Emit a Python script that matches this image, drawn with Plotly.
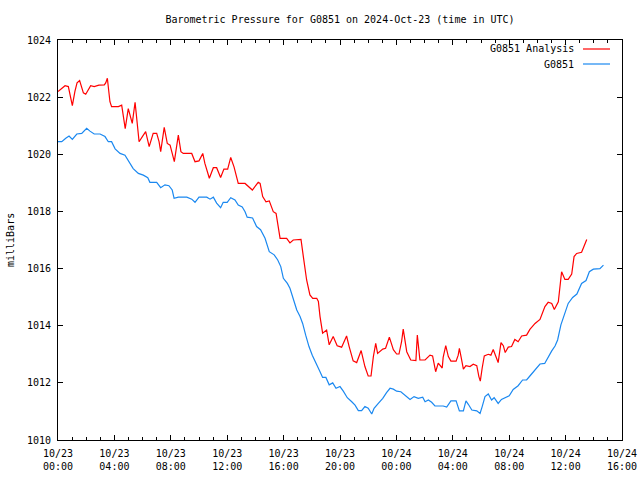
import pandas as pd
import plotly.graph_objects as go

# minutes after 2024-10-23 00:00 UTC
analysis_min = [0, 30, 44, 61, 72, 81, 92, 108, 118, 139, 154, 174, 197, 203, 210, 221, 228, 257, 271, 278,
                286, 299, 311, 316, 328, 335, 345, 359, 373, 388, 405, 420, 430, 437, 444, 452, 465, 477, 495, 502,
                512, 523, 533, 569, 583, 600, 616, 625, 644, 661, 675, 692, 706, 722, 735, 749, 767, 796, 827, 852,
                860, 871, 885, 899, 916, 928, 945, 973, 987, 1001, 1034, 1044, 1058, 1072, 1084, 1101, 1108, 1115, 1126, 1143,
                1154, 1171, 1188, 1207, 1228, 1239, 1256, 1271, 1290, 1306, 1320, 1332, 1342, 1352, 1360, 1382, 1394, 1410, 1427, 1441,
                1451, 1462, 1469, 1484, 1501, 1523, 1529, 1540, 1562, 1583, 1594, 1607, 1618, 1635, 1639, 1650, 1661, 1672, 1694, 1703,
                1708, 1715, 1725, 1736, 1753, 1767, 1782, 1791, 1797, 1805, 1814, 1831, 1842, 1852, 1862, 1873, 1885, 1895, 1903, 1916,
                1930, 1944, 1958, 1973, 1994, 2008, 2030, 2051, 2072, 2086, 2101, 2112, 2129, 2136, 2143, 2157, 2171, 2186, 2196, 2207,
                2228, 2238, 2250]
analysis_mb = [1022.2, 1022.4, 1022.37, 1021.7, 1022.2, 1022.5, 1022.58, 1022.15, 1022.1, 1022.4, 1022.37, 1022.42, 1022.43, 1022.5, 1022.66, 1021.84, 1021.67, 1021.67, 1021.72, 1021.3,
               1020.9, 1021.6, 1021.2, 1021.08, 1021.82, 1021.25, 1020.44, 1020.62, 1020.79, 1020.27, 1020.73, 1020.73, 1020.44, 1020.09, 1020.56, 1020.94, 1020.38, 1020.32, 1019.74, 1020.15,
               1020.67, 1020.09, 1020.03, 1020.03, 1019.74, 1019.77, 1020.03, 1019.68, 1019.16, 1019.53, 1019.53, 1019.19, 1019.48, 1019.48, 1019.89, 1019.56, 1018.98, 1018.98, 1018.75, 1019.02,
               1018.98, 1018.52, 1018.34, 1018.37, 1017.99, 1017.93, 1017.06, 1017.06, 1016.9, 1017.0, 1017.02, 1016.42, 1015.6, 1015.08, 1014.96, 1014.96, 1014.85, 1014.32, 1013.74, 1013.85,
               1013.33, 1013.62, 1013.3, 1013.25, 1013.64, 1013.27, 1012.77, 1012.71, 1013.13, 1012.57, 1012.24, 1012.24, 1012.92, 1013.38, 1013.03, 1013.18, 1013.21, 1013.6, 1013.16, 1013.01,
               1013.01, 1013.44, 1013.88, 1013.09, 1012.8, 1012.78, 1013.67, 1012.8, 1012.8, 1012.97, 1012.94, 1012.39, 1012.69, 1012.52, 1012.89, 1013.3, 1012.92, 1012.76, 1012.76, 1012.97,
               1013.21, 1012.92, 1012.48, 1012.6, 1012.57, 1012.65, 1012.6, 1012.22, 1012.06, 1012.52, 1012.94, 1013.0, 1012.97, 1013.17, 1012.92, 1012.71, 1013.41, 1013.3, 1013.06, 1013.25,
               1013.27, 1013.52, 1013.44, 1013.64, 1013.67, 1013.87, 1014.08, 1014.22, 1014.67, 1014.82, 1014.78, 1014.57, 1014.84, 1015.42, 1015.89, 1015.62, 1015.62, 1015.81, 1016.42, 1016.53,
               1016.57, 1016.77, 1017.02]

station_min = [0, 16, 33, 47, 61, 80, 101, 122, 136, 154, 179, 200, 214, 228, 243, 264, 285, 302, 320, 342,
               363, 382, 391, 420, 437, 455, 472, 486, 494, 512, 548, 569, 583, 600, 633, 647, 661, 675, 692, 703,
               720, 735, 753, 767, 784, 796, 805, 828, 845, 862, 881, 899, 920, 935, 948, 959, 976, 987, 1001, 1016,
               1030, 1041, 1054, 1068, 1082, 1098, 1115, 1126, 1140, 1154, 1169, 1183, 1200, 1214, 1231, 1250, 1264, 1278, 1292, 1306,
               1320, 1335, 1345, 1363, 1382, 1398, 1413, 1427, 1441, 1459, 1476, 1498, 1515, 1533, 1552, 1562, 1576, 1590, 1604, 1639,
               1654, 1672, 1694, 1708, 1725, 1736, 1746, 1761, 1782, 1796, 1805, 1817, 1831, 1845, 1856, 1873, 1887, 1909, 1920, 1937,
               1958, 1977, 1994, 2008, 2030, 2051, 2071, 2086, 2101, 2115, 2126, 2140, 2154, 2171, 2190, 2208, 2228, 2247, 2261, 2278,
               2306, 2321]
station_mb = [1020.44, 1020.44, 1020.56, 1020.64, 1020.52, 1020.71, 1020.73, 1020.91, 1020.81, 1020.71, 1020.71, 1020.62, 1020.44, 1020.44, 1020.19, 1020.03, 1019.97, 1019.74, 1019.5, 1019.33,
              1019.27, 1019.18, 1019.02, 1019.02, 1018.83, 1018.93, 1018.9, 1018.75, 1018.46, 1018.5, 1018.5, 1018.43, 1018.32, 1018.5, 1018.5, 1018.43, 1018.5, 1018.29, 1018.13, 1018.32,
              1018.32, 1018.48, 1018.4, 1018.22, 1018.16, 1017.99, 1017.8, 1017.77, 1017.47, 1017.36, 1017.06, 1016.59, 1016.48, 1016.3, 1016.07, 1015.66, 1015.48, 1015.31, 1014.96, 1014.55,
              1014.32, 1014.08, 1013.67, 1013.27, 1012.97, 1012.71, 1012.39, 1012.19, 1012.19, 1011.93, 1012.0, 1011.81, 1011.87, 1011.71, 1011.48, 1011.34, 1011.22, 1011.03, 1011.03, 1011.17,
              1011.11, 1010.91, 1011.11, 1011.28, 1011.46, 1011.66, 1011.81, 1011.78, 1011.71, 1011.69, 1011.57, 1011.42, 1011.52, 1011.46, 1011.5, 1011.34, 1011.4, 1011.32, 1011.19, 1011.19,
              1011.15, 1011.37, 1011.37, 1011.02, 1011.02, 1011.37, 1011.25, 1011.05, 1011.02, 1010.93, 1011.17, 1011.52, 1011.61, 1011.4, 1011.48, 1011.28, 1011.42, 1011.52, 1011.55, 1011.77,
              1011.9, 1012.1, 1012.1, 1012.24, 1012.45, 1012.66, 1012.68, 1012.92, 1013.12, 1013.29, 1013.5, 1014.03, 1014.38, 1014.78, 1014.99, 1015.11, 1015.48, 1015.58, 1015.89, 1015.98,
              1016.0, 1016.12]

tick_hours = [0, 4, 8, 12, 16, 20, 24, 28, 32, 36, 40]
tick_labels = ["10/23<br>00:00", "10/23<br>04:00", "10/23<br>08:00", "10/23<br>12:00", "10/23<br>16:00",
               "10/23<br>20:00", "10/24<br>00:00", "10/24<br>04:00", "10/24<br>08:00", "10/24<br>12:00",
               "10/24<br>16:00"]
y_ticks = [1010, 1012, 1014, 1016, 1018, 1020, 1022, 1024]

t0 = pd.Timestamp("2024-10-23 00:00")
ta = [t0 + pd.Timedelta(minutes=m) for m in analysis_min]
ts = [t0 + pd.Timedelta(minutes=m) for m in station_min]
tickvals = [t0 + pd.Timedelta(hours=h) for h in tick_hours]

RED = "#ff0000"
BLUE = "#1a88f0"
FONT = "DejaVu Sans Mono"

fig = go.Figure()
fig.add_trace(go.Scatter(x=ta, y=analysis_mb, mode="lines", name="G0851 Analysis",
                         line=dict(color=RED, width=1.2)))
fig.add_trace(go.Scatter(x=ts, y=station_mb, mode="lines", name="G0851",
                         line=dict(color=BLUE, width=1.2)))

fig.update_layout(
    width=640, height=480,
    margin=dict(l=58, r=18, t=40, b=40, autoexpand=False),
    paper_bgcolor="white", plot_bgcolor="white",
    showlegend=False,
    font=dict(family=FONT, size=10, color="black"),
    title=dict(text="Barometric Pressure for G0851 on 2024-Oct-23 (time in UTC)",
               x=0.5, xref="paper", xanchor="center", y=1 - 19 / 480, yanchor="middle",
               font=dict(family=FONT, size=10, color="black")),
)
fig.update_xaxes(range=[tickvals[0], tickvals[-1]], tickvals=tickvals, ticktext=tick_labels,
                 showgrid=False, zeroline=False, showline=True, linecolor="black", linewidth=1,
                 mirror="allticks", ticks="inside", ticklen=5, tickcolor="black",
                 minor=dict(dtick=3600000, tick0=tickvals[0], ticks="inside", ticklen=3, tickcolor="black"),
                 ticklabelstandoff=4, tickfont=dict(family=FONT, size=10))
fig.update_yaxes(range=[1010, 1024], tickvals=y_ticks,
                 showgrid=False, zeroline=False, showline=True, linecolor="black", linewidth=1,
                 mirror="allticks", ticks="inside", ticklen=5, tickcolor="black",
                 ticklabelstandoff=4, tickfont=dict(family=FONT, size=10))

fig.add_annotation(text="milliBars", xref="paper", yref="paper", x=(10 - 58) / 564, y=0.5,
                   textangle=-90, showarrow=False, font=dict(family=FONT, size=10), xanchor="center", yanchor="middle")

# legend (gnuplot style: text then sample line)
for i, (name, col) in enumerate([("G0851 Analysis", RED), ("G0851", BLUE)]):
    py = 49 + 15 * i
    yy = (440 - py) / 400
    fig.add_annotation(text=name, xref="paper", yref="paper", x=(576 - 58) / 564, y=yy,
                       showarrow=False, xanchor="right", yanchor="middle", font=dict(family=FONT, size=10))
    fig.add_shape(type="line", xref="paper", yref="paper", x0=(583 - 58) / 564, x1=(610 - 58) / 564,
                  y0=yy, y1=yy, line=dict(color=col, width=1.2))

fig.write_html("out.html", config={"displayModeBar": False},
               post_script="document.body.style.margin='0';document.body.style.padding='0';document.body.style.overflow='hidden';")
